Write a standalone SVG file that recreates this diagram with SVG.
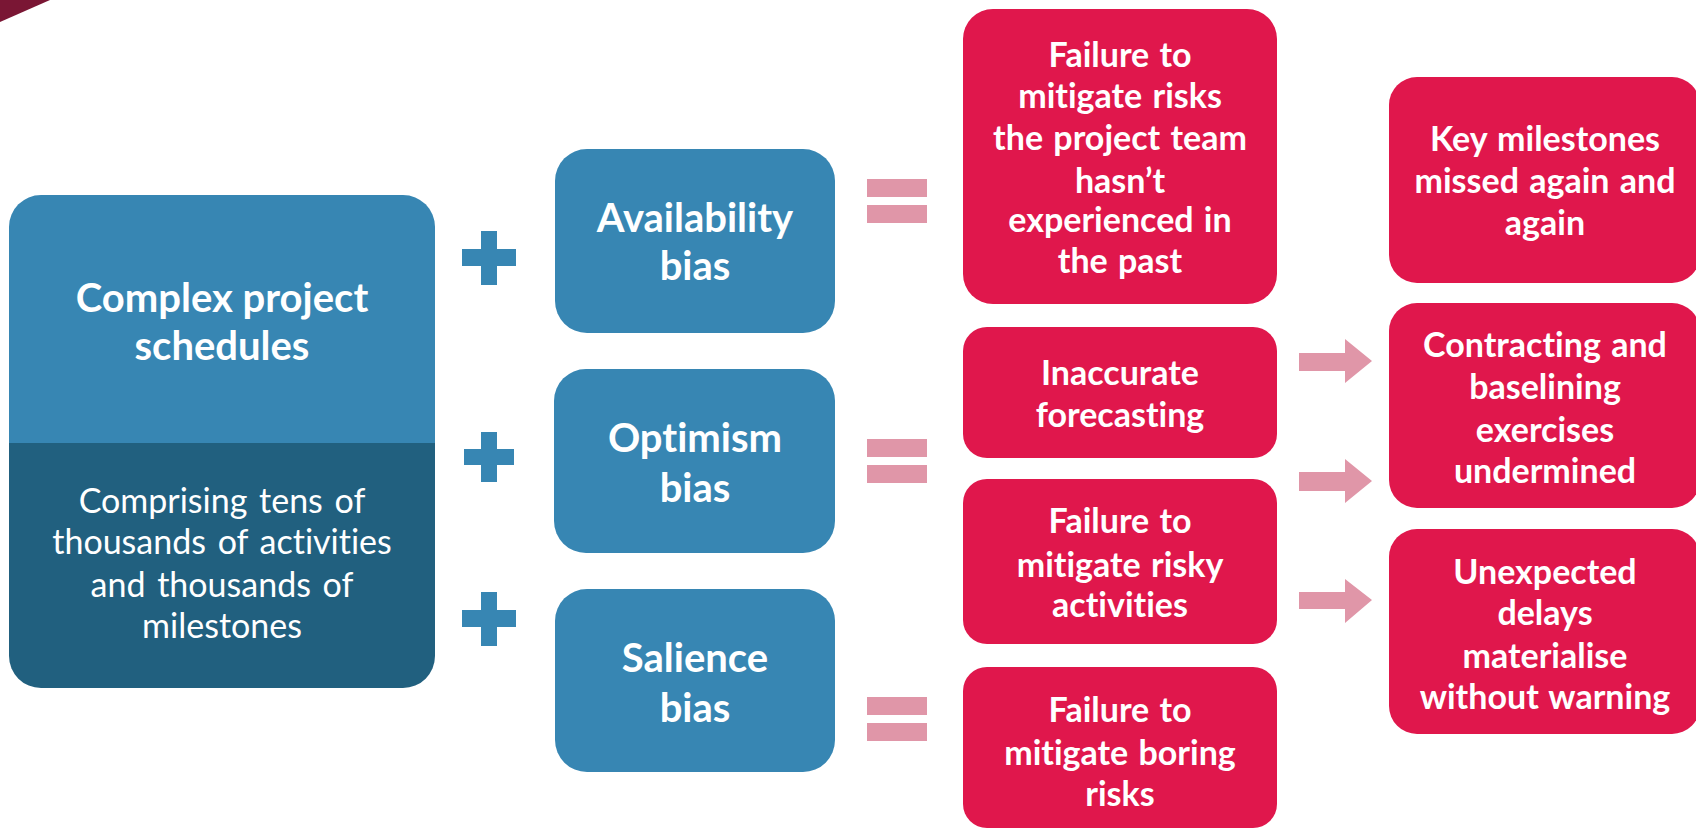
<svg xmlns="http://www.w3.org/2000/svg" width="1696" height="829" viewBox="0 0 1696 829">
  <style>
    .blue { fill: #3786b3; }
    .blue-dark { fill: #21607f; }
    .red { fill: #e0174c; }
    .pink { fill: #e096a8; }
    .plus { fill: #3786b3; }
    text { font-family: Lato, "Open Sans", "Liberation Sans", sans-serif; fill: #ffffff; text-anchor: middle; font-variant-ligatures: none; font-feature-settings: "liga" 0; }
    .h1 { font-size: 40px; font-weight: 700; }
    .h2 { font-size: 40px; font-weight: 700; }
    .h3 { font-size: 34px; font-weight: 700; word-spacing: 2px; }
    .body { font-size: 34px; font-weight: 400; word-spacing: 3px; }
  </style>
  <defs>
    <clipPath id="clip-schedules">
      <rect x="9" y="195" width="426" height="493" rx="32" ry="32"/>
    </clipPath>
  </defs>

  <!-- corner accent -->
  <polygon points="0,0 50,0 0,22" fill="#7a1634"/>

  <!-- source node: schedules -->
  <g id="node-schedules">
    <g clip-path="url(#clip-schedules)">
      <rect class="blue" x="9" y="195" width="426" height="248"/>
      <rect class="blue-dark" x="9" y="443" width="426" height="245"/>
    </g>
    <text class="h1" x="222" y="312">Complex project</text>
    <text class="h1" x="222" y="360">schedules</text>
    <text class="body" x="222" y="513">Comprising tens of</text>
    <text class="body" x="222" y="554">thousands of activities</text>
    <text class="body" x="222" y="597">and thousands of</text>
    <text class="body" x="222" y="638">milestones</text>
  </g>

  <!-- bias nodes -->
  <g id="node-availability">
    <rect class="blue" x="555" y="149" width="280" height="184" rx="32" ry="32"/>
    <text class="h2" x="695" y="232">Availability</text>
    <text class="h2" x="695" y="280">bias</text>
  </g>
  <g id="node-optimism">
    <rect class="blue" x="554" y="369" width="281" height="184" rx="32" ry="32"/>
    <text class="h2" x="695" y="452">Optimism</text>
    <text class="h2" x="695" y="502">bias</text>
  </g>
  <g id="node-salience">
    <rect class="blue" x="555" y="589" width="280" height="183" rx="32" ry="32"/>
    <text class="h2" x="695" y="672">Salience</text>
    <text class="h2" x="695" y="722">bias</text>
  </g>

  <!-- effect nodes -->
  <g id="node-unfamiliar-risks">
    <rect class="red" x="963" y="9" width="314" height="295" rx="30" ry="30"/>
    <text class="h3" x="1120" y="67">Failure to</text>
    <text class="h3" x="1120" y="108">mitigate risks</text>
    <text class="h3" x="1120" y="150">the project team</text>
    <text class="h3" x="1120" y="193">hasn’t</text>
    <text class="h3" x="1120" y="232">experienced in</text>
    <text class="h3" x="1120" y="273">the past</text>
  </g>
  <g id="node-forecasting">
    <rect class="red" x="963" y="327" width="314" height="131" rx="24" ry="24"/>
    <text class="h3" x="1120" y="385">Inaccurate</text>
    <text class="h3" x="1120" y="427">forecasting</text>
  </g>
  <g id="node-risky-activities">
    <rect class="red" x="963" y="479" width="314" height="165" rx="24" ry="24"/>
    <text class="h3" x="1120" y="533">Failure to</text>
    <text class="h3" x="1120" y="577">mitigate risky</text>
    <text class="h3" x="1120" y="617">activities</text>
  </g>
  <g id="node-boring-risks">
    <rect class="red" x="963" y="667" width="314" height="161" rx="24" ry="24"/>
    <text class="h3" x="1120" y="722">Failure to</text>
    <text class="h3" x="1120" y="765">mitigate boring</text>
    <text class="h3" x="1120" y="806">risks</text>
  </g>

  <!-- outcome nodes -->
  <g id="node-milestones">
    <rect class="red" x="1389" y="77" width="311" height="206" rx="28" ry="28"/>
    <text class="h3" x="1545" y="151">Key milestones</text>
    <text class="h3" x="1545" y="193">missed again and</text>
    <text class="h3" x="1545" y="235">again</text>
  </g>
  <g id="node-baselining">
    <rect class="red" x="1389" y="303" width="311" height="205" rx="28" ry="28"/>
    <text class="h3" x="1545" y="357">Contracting and</text>
    <text class="h3" x="1545" y="399">baselining</text>
    <text class="h3" x="1545" y="442">exercises</text>
    <text class="h3" x="1545" y="483">undermined</text>
  </g>
  <g id="node-delays">
    <rect class="red" x="1389" y="529" width="311" height="205" rx="28" ry="28"/>
    <text class="h3" x="1545" y="584">Unexpected</text>
    <text class="h3" x="1545" y="625">delays</text>
    <text class="h3" x="1545" y="668">materialise</text>
    <text class="h3" x="1545" y="709">without warning</text>
  </g>

  <!-- connectors: plus signs, equals signs, arrows -->
  <g id="connectors">
    <g id="plus-signs" class="plus">
      <path d="M481,231 h16 v18 h19 v17 h-19 v19 h-16 v-19 h-19 v-17 h19 z"/>
      <path d="M481,432 h16 v17 h17 v16 h-17 v17 h-16 v-17 h-17 v-16 h17 z"/>
      <path d="M481,592 h16 v18 h19 v17 h-19 v19 h-16 v-19 h-19 v-17 h19 z"/>
    </g>
    <g id="equals-signs" class="pink">
      <rect x="867" y="179" width="60" height="18"/>
      <rect x="867" y="205" width="60" height="18"/>
      <rect x="867" y="439" width="60" height="18"/>
      <rect x="867" y="465" width="60" height="18"/>
      <rect x="867" y="697" width="60" height="18"/>
      <rect x="867" y="723" width="60" height="18"/>
    </g>
    <g id="arrows" class="pink">
      <polygon points="1299,353 1345,353 1345,339 1372,361 1345,383 1345,371 1299,371"/>
      <polygon points="1299,472 1345,472 1345,459 1372,481 1345,503 1345,491 1299,491"/>
      <polygon points="1299,592 1345,592 1345,579 1372,600 1345,623 1345,609 1299,609"/>
    </g>
  </g>
</svg>
